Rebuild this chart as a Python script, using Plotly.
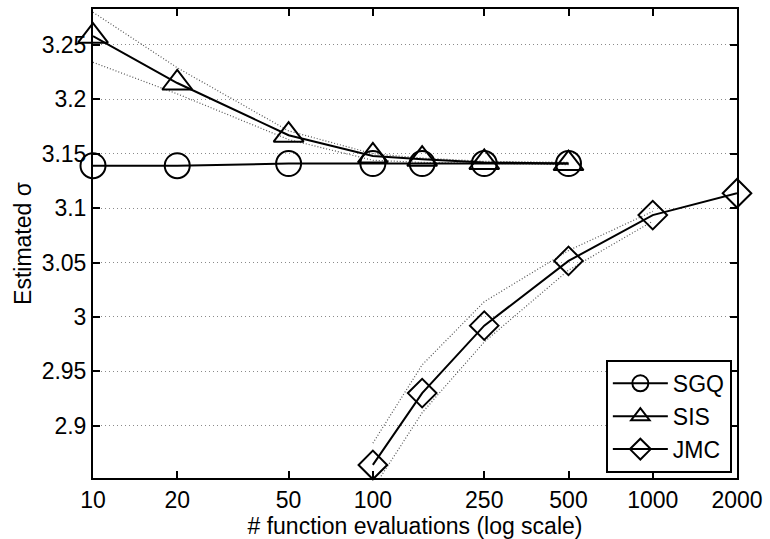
import plotly.graph_objects as go
import math

# ---- data ----
sgq_x = [10, 20, 50, 100, 150, 250, 500]
sgq_y = [3.139, 3.139, 3.141, 3.141, 3.141, 3.141, 3.141]

sis_x = [10, 20, 50, 100, 150, 250, 500]
sis_y = [3.258, 3.215, 3.167, 3.148, 3.145, 3.142, 3.141]
sis_hi = [3.280, 3.229, 3.171, 3.150, 3.146, 3.143, 3.142]
sis_lo = [3.234, 3.205, 3.163, 3.144, 3.142, 3.141, 3.140]

jmc_x = [100, 150, 250, 500, 1000, 2000]
jmc_y = [2.864, 2.930, 2.992, 3.0515, 3.0936, 3.1137]
jmc_bx = [100, 150, 250, 500, 1000]
jmc_hi = [2.884, 2.956, 3.014, 3.061, 3.097]
jmc_lo = [2.842, 2.912, 2.977, 3.043, 3.088]

xticks = [10, 20, 50, 100, 250, 500, 1000, 2000]
xtick_text = ["10", "20", "50", "100", "250", "500", "1000", "2000"]
yticks = [2.9, 2.95, 3.0, 3.05, 3.1, 3.15, 3.2, 3.25]
ytick_text = ["2.9", "2.95", "3", "3.05", "3.1", "3.15", "3.2", "3.25"]

FONT = "Liberation Sans, Arial, Helvetica, sans-serif"
FS = 23

fig = go.Figure()

dot = dict(color="#555555", width=1.2, dash="1px,2px")
for bx, by in [(sis_x, sis_hi), (sis_x, sis_lo), (jmc_bx, jmc_hi), (jmc_bx, jmc_lo)]:
    fig.add_trace(go.Scatter(x=bx, y=by, mode="lines", line=dot,
                             showlegend=False, hoverinfo="skip"))

fig.add_trace(go.Scatter(x=sgq_x, y=sgq_y, mode="lines+markers", name="SGQ",
                         line=dict(color="black", width=2),
                         marker=dict(symbol="circle-open", size=25, color="black",
                                     line=dict(width=2, color="black")),
                         cliponaxis=False))
fig.add_trace(go.Scatter(x=sis_x, y=sis_y, mode="lines+markers", name="SIS",
                         line=dict(color="black", width=2),
                         marker=dict(symbol="triangle-up-open", size=26, color="black",
                                     line=dict(width=2, color="black")),
                         cliponaxis=False))
fig.add_trace(go.Scatter(x=jmc_x, y=jmc_y, mode="lines+markers", name="JMC",
                         line=dict(color="black", width=2),
                         marker=dict(symbol="diamond-open", size=22, color="black",
                                     line=dict(width=2, color="black")),
                         cliponaxis=False))

fig.update_layout(
    width=770, height=539,
    margin=dict(l=93, r=32, t=7, b=61),
    paper_bgcolor="white", plot_bgcolor="white",
    font=dict(family=FONT, size=FS, color="black"),
    showlegend=True,
    legend=dict(x=0.992, y=0.011, xanchor="right", yanchor="bottom",
                bgcolor="white", bordercolor="black", borderwidth=2,
                font=dict(size=FS), itemwidth=55, tracegroupgap=0),
)
fig.update_xaxes(type="log", range=[1, math.log10(2000)],
                 tickvals=xticks, ticktext=xtick_text,
                 showgrid=False, zeroline=False,
                 showline=True, linecolor="black", linewidth=2, mirror="ticks",
                 ticks="inside", ticklen=7, tickwidth=1.5, tickcolor="black",
                 title=dict(text="# function evaluations (log scale)", standoff=0,
                            font=dict(size=FS)))
fig.update_yaxes(range=[2.852, 3.283],
                 tickvals=yticks, ticktext=ytick_text,
                 showgrid=True, gridcolor="#8a8a8a", gridwidth=1, griddash="1px,3px",
                 zeroline=False,
                 showline=True, linecolor="black", linewidth=2, mirror="ticks",
                 ticks="inside", ticklen=7, tickwidth=1.5, tickcolor="black",
                 title=dict(text="Estimated σ", standoff=4, font=dict(size=FS)))

fig.write_html("out.html")
